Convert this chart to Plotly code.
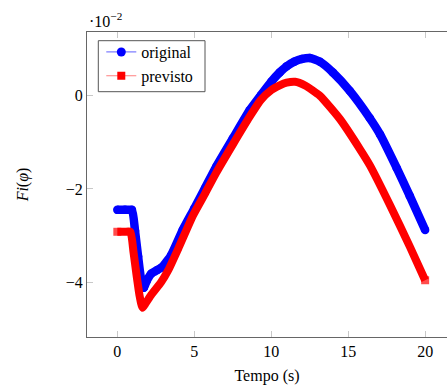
import plotly.graph_objects as go

# Data (values in units of 1e-2, scaled below)
orig_t = [0.0, 0.5, 0.95, 1.15, 1.35, 1.55, 1.72, 1.9, 2.2, 2.6, 2.9, 3.5, 4.25, 5.0, 5.7,
          6.43, 7.5, 8.6, 9.3, 10.0, 10.55, 11.0, 11.5, 12.0, 12.5, 13.16, 14.0, 15.11,
          16.4, 17.07, 18.15, 19.0, 20.0]
orig_v = [-2.45, -2.45, -2.45, -2.9, -3.45, -3.95, -4.12, -3.98, -3.82, -3.74, -3.68, -3.42,
          -2.88, -2.42, -1.98, -1.52, -0.92, -0.31, 0.0, 0.3, 0.5, 0.63, 0.73, 0.79, 0.81,
          0.73, 0.5, 0.1, -0.48, -0.83, -1.55, -2.15, -2.88]

prev_t = [0.0, 0.5, 0.85, 1.05, 1.25, 1.45, 1.63, 1.85, 2.19, 2.85, 3.3, 4.0, 4.9, 5.7,
          6.43, 7.5, 8.6, 9.3, 10.0, 10.55, 11.0, 11.55, 12.2, 13.16, 14.46, 15.77, 16.42,
          17.72, 19.02, 20.0]
prev_v = [-2.92, -2.92, -2.92, -3.35, -3.85, -4.3, -4.55, -4.45, -4.28, -4.0, -3.75, -3.25,
          -2.58, -2.1, -1.65, -1.05, -0.45, -0.1, 0.12, 0.22, 0.28, 0.30, 0.22, 0.0, -0.5,
          -1.15, -1.5, -2.35, -3.25, -3.96]

y_ticks = [-0.04, -0.02, 0.0]
y_tick_labels = ["\u22124", "\u22122", "0"]
x_ticks = [0, 5, 10, 15, 20]

SCALE = 1e-2
orig_y = [v * SCALE for v in orig_v]
prev_y = [v * SCALE for v in prev_v]

FONT = "Liberation Serif"
BLUE = "#0000ff"
RED = "#ff0000"

# square end caps only at the two ends of the red series
red_sizes = [8 if i in (0, len(prev_t) - 1) else 0 for i in range(len(prev_t))]

fig = go.Figure()
fig.add_trace(go.Scatter(x=orig_t, y=orig_y, mode="lines+markers", showlegend=False,
                         line=dict(color=BLUE, width=8.5, shape="spline", smoothing=0.5),
                         marker=dict(symbol="circle", size=8.5, color=BLUE)))
fig.add_trace(go.Scatter(x=prev_t, y=prev_y, mode="lines+markers", showlegend=False,
                         line=dict(color=RED, width=8, shape="spline", smoothing=0.5),
                         marker=dict(symbol="square", size=red_sizes, color=RED,
                                     line=dict(width=0))))
# legend entries
fig.add_trace(go.Scatter(x=[None], y=[None], mode="lines+markers", name="original",
                         line=dict(color="#7f7fff", width=1.2),
                         marker=dict(symbol="circle", size=9, color=BLUE)))
fig.add_trace(go.Scatter(x=[None], y=[None], mode="lines+markers", name="previsto",
                         line=dict(color="#ff7f7f", width=1.2),
                         marker=dict(symbol="square", size=8, color=RED)))

fig.update_layout(
    width=447, height=385,
    margin=dict(l=87, r=0, t=32, b=48),
    paper_bgcolor="white", plot_bgcolor="white",
    font=dict(family=FONT, size=16, color="black"),
    legend=dict(x=0.0397, y=0.990, xanchor="left", yanchor="top",
                borderwidth=0, bgcolor="rgba(0,0,0,0)",
                font=dict(family=FONT, size=16), tracegroupgap=0),
    xaxis=dict(range=[-1.97, 21.42], tickvals=x_ticks, ticks="inside", ticklen=6,
               tickcolor="#c8c8c8", showline=True, linecolor="#666666", linewidth=1,
               mirror="ticks", showgrid=False, zeroline=False,
               title=dict(text="Tempo (s)", standoff=14, font=dict(family=FONT, size=16))),
    yaxis=dict(range=[-0.05178, 0.01367], tickvals=y_ticks, ticktext=y_tick_labels,
               ticks="inside", ticklen=6, tickcolor="#c8c8c8", showline=True,
               linecolor="#666666", linewidth=1, mirror=False, showgrid=False,
               zeroline=False,
               title=dict(text="<i>Fi</i>(<i>\u03c6</i>)", standoff=33,
                          font=dict(family=FONT, size=16))),
)
# legend frame
fig.add_shape(type="rect", xref="paper", yref="paper",
              x0=0.0314, x1=0.3278, y0=0.8043, y1=0.9715,
              line=dict(color="#555555", width=1), fillcolor="white", layer="above")
fig.add_annotation(text="\u00b710<sup>\u22122</sup>", xref="paper", yref="paper",
                   x=0.0, y=1.0, xanchor="left", yanchor="bottom", showarrow=False,
                   font=dict(family=FONT, size=16), yshift=0)

fig.write_html("out.html", config={"displayModeBar": False},
               post_script="document.body.style.margin='0';document.body.style.padding='0';")
